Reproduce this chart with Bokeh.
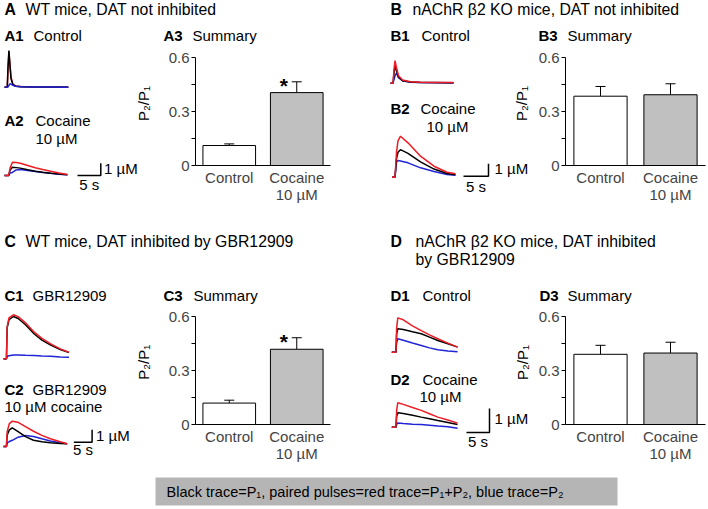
import math
from bokeh.plotting import figure
from bokeh.models import Range1d, FactorRange, Whisker, TeeHead, ColumnDataSource, FixedTicker
from bokeh.layouts import row, column
from bokeh.embed import file_html
from bokeh.resources import INLINE
from bokeh.core.properties import value

FONT = "Liberation Sans"
RED = "#ee1c25"
BLACK = "#000000"
BLUE = "#1f24d6"
GREY_BAR = "#c0c0c0"
GREY_BOX = "#b5b5b5"

# ---------------- data ----------------
bar_categories = ["Control", "Cocaine\n10 µM"]
bar_fills = ["white", GREY_BAR]
y_ticks = [0, 0.3, 0.6]
y_minor_ticks = [0.15, 0.45]

a3_mean = [0.111, 0.405]
a3_upper = [0.120, 0.465]
a3_marks = ["", "*"]
b3_mean = [0.385, 0.393]
b3_upper = [0.439, 0.454]
b3_marks = ["", ""]
c3_mean = [0.119, 0.418]
c3_upper = [0.135, 0.482]
c3_marks = ["", "*"]
d3_mean = [0.390, 0.397]
d3_upper = [0.440, 0.457]
d3_marks = ["", ""]

SCALE_TIME = 5      # s
SCALE_CONC = 1      # µM

# traces: time (s) and dopamine (µM)
a1_t = [0.0, 0.6, 0.75, 0.95, 1.15, 1.4, 1.8, 2.4, 3.5, 6.0, 9.5, 13.7]
a1_red = [0.0, 0.02, 1.5, 2.9, 1.95, 0.8, 0.25, 0.1, 0.05, 0.03, 0.02, 0.01]
a1_black = [0.0, 0.02, 1.6, 2.98, 1.9, 0.7, 0.2, 0.08, 0.04, 0.02, 0.01, 0.0]
a1_blue = [0.0, 0.0, 0.02, 0.15, 0.28, 0.25, 0.15, 0.08, 0.04, 0.02, 0.01, 0.0]

a2_t = [0.0, 0.9, 1.2, 1.7, 2.5, 3.4, 5.0, 6.6, 8.2, 9.9, 11.7, 13.5]
a2_red = [0.0, 0.0, 0.6, 1.08, 1.06, 1.0, 0.82, 0.63, 0.48, 0.35, 0.2, 0.08]
a2_black = [0.0, 0.0, 0.45, 0.67, 0.64, 0.6, 0.47, 0.35, 0.26, 0.19, 0.12, 0.06]
a2_blue = [0.0, 0.0, 0.2, 0.25, 0.45, 0.48, 0.41, 0.33, 0.25, 0.18, 0.11, 0.06]

b1_t = [0.0, 0.5, 0.7, 0.9, 1.2, 1.6, 2.4, 4.0, 6.0, 9.0, 12.6]
b1_red = [0.0, 0.0, 1.1, 1.8, 1.25, 0.6, 0.25, 0.12, 0.08, 0.06, 0.05]
b1_black = [0.0, 0.0, 0.8, 1.35, 1.0, 0.5, 0.2, 0.1, 0.06, 0.05, 0.04]
b1_blue = [0.0, 0.0, 0.3, 0.6, 0.8, 0.45, 0.2, 0.08, 0.05, 0.03, 0.02]

b2_t = [0.3, 0.9, 1.2, 1.5, 2.0, 3.5, 6.0, 8.7, 11.3, 13.0]
b2_red = [0.0, 0.0, 2.0, 2.9, 3.28, 2.75, 1.68, 0.88, 0.4, 0.27]
b2_black = [0.0, 0.0, 1.5, 2.0, 2.2, 1.9, 1.23, 0.65, 0.3, 0.2]
b2_blue = [0.0, 0.0, 1.2, 1.33, 1.3, 1.15, 0.75, 0.45, 0.22, 0.16]

c1_t = [0.0, 0.8, 1.0, 1.5, 2.7, 4.0, 6.0, 8.4, 10.5, 12.9, 15.5, 17.9]
c1_red = [0.0, 0.0, 2.6, 3.3, 3.55, 3.4, 2.9, 2.15, 1.65, 1.21, 0.8, 0.53]
c1_black = [0.0, 0.0, 2.5, 3.15, 3.41, 3.25, 2.75, 2.0, 1.5, 1.1, 0.75, 0.5]
c1_blue = [0.0, 0.0, 0.2, 0.25, 0.3, 0.3, 0.28, 0.27, 0.22, 0.2, 0.15, 0.12]

c2_t = [0.0, 0.8, 1.0, 1.6, 2.4, 4.0, 6.0, 8.2, 10.5, 12.8, 15.5, 17.4]
c2_red = [0.0, 0.0, 1.2, 1.85, 2.04, 1.95, 1.6, 1.23, 0.9, 0.62, 0.38, 0.22]
c2_black = [0.0, 0.0, 0.9, 1.35, 1.51, 1.2, 0.8, 0.5, 0.38, 0.3, 0.25, 0.22]
c2_blue = [0.0, 0.0, 0.3, 0.4, 0.5, 0.75, 0.89, 0.8, 0.62, 0.45, 0.3, 0.22]

d_t = [0.0, 0.9, 1.05, 1.3, 2.5, 4.5, 6.4, 8.2, 10.0, 12.2, 14.3]
d1_red = [0.0, 0.0, 1.0, 1.43, 1.35, 1.1, 0.9, 0.72, 0.56, 0.38, 0.21]
d1_black = [0.0, 0.0, 0.75, 0.98, 0.95, 0.85, 0.77, 0.63, 0.49, 0.35, 0.21]
d1_blue = [0.0, 0.0, 0.4, 0.56, 0.5, 0.38, 0.28, 0.18, 0.1, 0.05, 0.02]
d2_red = [0.0, 0.0, 0.7, 1.02, 0.95, 0.82, 0.7, 0.56, 0.42, 0.3, 0.17]
d2_black = [0.0, 0.0, 0.45, 0.6, 0.57, 0.5, 0.42, 0.35, 0.28, 0.2, 0.11]
d2_blue = [0.0, 0.0, 0.12, 0.17, 0.15, 0.12, 0.11, 0.08, 0.05, 0.02, -0.04]

footer_text = "Black trace=P\u2081, paired pulses=red trace=P\u2081+P\u2082, blue trace=P\u2082"
y_label = "P\u2082/P\u2081"

# ---------------- layout constants ----------------
HEAD = 15.8
ROW_H = 170
FRAME_TOP = 12
FRAME_H = 108
CAP_MID = 0.36   # distance from baseline to middle of capitals, in em


# ---------------- helpers ----------------
def no_align(p):
    try:
        p.frame_align = False
    except Exception:
        pass


def canvas(w, h):
    p = figure(width=w, height=h, x_range=Range1d(0, w), y_range=Range1d(h, 0),
               x_axis_type=None, y_axis_type=None, output_backend="svg",
               toolbar_location=None, min_border=0)
    p.outline_line_color = None
    p.background_fill_color = "white"
    p.border_fill_color = "white"
    no_align(p)
    return p


def txt(p, x, y, s, size=15, bold=False, align="left"):
    """y is the text baseline (pixels from the top of the panel)."""
    p.text(x=[x], y=[y - CAP_MID * size], text=[s], text_font=value(FONT),
           text_font_size=f"{size}px", text_font_style="bold" if bold else "normal",
           text_align=align, text_baseline="middle", text_color="black")


def ylab(p, x, y):
    p.text(x=[x], y=[y], text=[y_label], text_font=value(FONT), text_font_size="15px",
           text_align="center", text_baseline="middle", text_color="black",
           angle=math.pi / 2)


def traces(p, key, t, series, x0, base, px_s, px_uM):
    W, H = p.width, p.height
    xr = dict(p.extra_x_ranges)
    yr = dict(p.extra_y_ranges)
    xr[key] = Range1d(-x0 / px_s, (W - x0) / px_s)
    yr[key] = Range1d((base - H) / px_uM, base / px_uM)
    p.extra_x_ranges = xr
    p.extra_y_ranges = yr
    for color, v in series:
        p.line(t, v, x_range_name=key, y_range_name=key, line_color=color, line_width=1.5)


def scale_bar(p, x_end, y, px_s, px_uM, label_y, conc_label_xy):
    L = SCALE_TIME * px_s
    V = SCALE_CONC * px_uM
    p.line([x_end - L, x_end, x_end], [y, y, y - V], line_color="black", line_width=1.5)
    txt(p, x_end - L / 2, label_y, f"{SCALE_TIME} s", align="center")
    txt(p, conc_label_xy[0], conc_label_xy[1], f"{SCALE_CONC} µM")


def bar_chart(w, left, frame_w, means, uppers, marks, bar_w):
    right = w - left - frame_w
    p = figure(width=w, height=ROW_H, x_range=FactorRange(factors=bar_categories),
               y_range=Range1d(0, 0.6), output_backend="svg", toolbar_location=None,
               min_border_left=left, min_border_right=right, min_border_top=FRAME_TOP,
               min_border_bottom=ROW_H - FRAME_TOP - FRAME_H)
    no_align(p)
    p.outline_line_color = None
    p.xgrid.visible = False
    p.ygrid.visible = False
    p.vbar(x=bar_categories, top=means, bottom=0, width=bar_w, fill_color=bar_fills,
           line_color="black", line_width=1)
    src = ColumnDataSource(dict(x=bar_categories, lower=means, upper=uppers))
    p.add_layout(Whisker(source=src, base="x", lower="lower", upper="upper",
                         line_color="black", line_width=1, lower_head=None,
                         upper_head=TeeHead(size=10, line_color="black", line_width=1)))
    p.text(x=bar_categories, y=uppers, text=marks, x_offset=-13, y_offset=3.5,
           text_font=value(FONT), text_font_size="21px", text_font_style="bold",
           text_align="center", text_baseline="middle", text_color="black")
    ya = p.yaxis[0]
    ya.ticker = FixedTicker(ticks=y_ticks, minor_ticks=y_minor_ticks)
    ya.major_label_overrides = {0: "0", 0.3: "0.3", 0.6: "0.6"}
    ya.major_tick_out = 4
    ya.major_tick_in = 0
    ya.minor_tick_out = 4
    ya.minor_tick_in = 0
    ya.major_label_standoff = 2
    ya.major_label_text_font = FONT
    ya.major_label_text_font_size = "15px"
    ya.axis_line_color = "black"
    ya.major_tick_line_color = "black"
    ya.minor_tick_line_color = "black"
    xa = p.xaxis[0]
    xa.major_tick_line_color = None
    xa.minor_tick_line_color = None
    xa.major_label_standoff = -3
    xa.major_label_text_font = FONT
    xa.major_label_text_font_size = "15px"
    xa.major_label_text_line_height = 1.05
    xa.axis_line_color = "black"
    return p


# ---------------- header 1 ----------------
h1 = canvas(708, 45)
txt(h1, 4, 15, "A", HEAD, bold=True)
txt(h1, 25, 15, "WT mice, DAT not inhibited", HEAD)
txt(h1, 390, 15, "B", HEAD, bold=True)
txt(h1, 412, 15, "nAChR β2 KO mice, DAT not inhibited", HEAD)
txt(h1, 4, 40, "A1", bold=True)
txt(h1, 33, 40, "Control")
txt(h1, 163, 40, "A3", bold=True)
txt(h1, 192, 40, "Summary")
txt(h1, 390, 40, "B1", bold=True)
txt(h1, 421, 40, "Control")
txt(h1, 538, 40, "B3", bold=True)
txt(h1, 567, 40, "Summary")

# ---------------- row 1 ----------------
cA = canvas(165, ROW_H)
traces(cA, "a1", a1_t, [(RED, a1_red), (BLACK, a1_black), (BLUE, a1_blue)], 4, 41.7, 4.66, 12.3)
txt(cA, 4, 80, "A2", bold=True)
txt(cA, 35, 80, "Cocaine")
txt(cA, 35, 98, "10 µM")
traces(cA, "a2", a2_t, [(BLUE, a2_blue), (BLACK, a2_black), (RED, a2_red)], 4, 130, 4.66, 12.3)
scale_bar(cA, 100.3, 130, 4.66, 12.3, 144, (103.5, 128))
ylab(cA, 143, 58)

bA = bar_chart(189, 30, 135, a3_mean, a3_upper, a3_marks, 0.78)

cB = canvas(181, ROW_H)
traces(cB, "b1", b1_t, [(BLUE, b1_blue), (BLACK, b1_black), (RED, b1_red)], 36, 37.7, 5, 12.5)
txt(cB, 36, 68.3, "B2", bold=True)
txt(cB, 66, 68.3, "Cocaine")
txt(cB, 72, 86, "10 µM")
traces(cB, "b2", b2_t, [(BLUE, b2_blue), (BLACK, b2_black), (RED, b2_red)], 36, 131.7, 5, 12.5)
scale_bar(cB, 134, 130.7, 5, 12.5, 146, (140, 128.3))
ylab(cB, 167, 58)

bB = bar_chart(173, 30, 140, b3_mean, b3_upper, b3_marks, 0.76)

# ---------------- header 2 ----------------
h2 = canvas(708, 89)
txt(h2, 4, 31.7, "C", HEAD, bold=True)
txt(h2, 25, 31.7, "WT mice, DAT inhibited by GBR12909", HEAD)
txt(h2, 390, 31.7, "D", HEAD, bold=True)
txt(h2, 415, 31.7, "nAChR β2 KO mice, DAT inhibited", HEAD)
txt(h2, 415, 49.3, "by GBR12909", HEAD)
txt(h2, 4, 85, "C1", bold=True)
txt(h2, 32, 85, "GBR12909")
txt(h2, 163, 85, "C3", bold=True)
txt(h2, 193, 85, "Summary")
txt(h2, 390, 85, "D1", bold=True)
txt(h2, 422, 85, "Control")
txt(h2, 539, 85, "D3", bold=True)
txt(h2, 567, 85, "Summary")

# ---------------- row 2 ----------------
cC = canvas(165, ROW_H)
traces(cC, "c1", c1_t, [(BLUE, c1_blue), (BLACK, c1_black), (RED, c1_red)], 3, 54.3, 3.66, 12.4)
txt(cC, 4, 90, "C2", bold=True)
txt(cC, 32, 90, "GBR12909")
txt(cC, 4, 107.7, "10 µM cocaine")
traces(cC, "c2", c2_t, [(BLUE, c2_blue), (BLACK, c2_black), (RED, c2_red)], 3, 142, 3.66, 12.4)
scale_bar(cC, 91.6, 137.7, 3.66, 12.4, 150, (95.5, 136))
ylab(cC, 143, 57.7)

bC = bar_chart(189, 30, 135, c3_mean, c3_upper, c3_marks, 0.78)

cD = canvas(181, ROW_H)
traces(cD, "d1", d_t, [(BLUE, d1_blue), (BLACK, d1_black), (RED, d1_red)], 37.3, 47.7, 4.6, 24)
txt(cD, 36, 80, "D2", bold=True)
txt(cD, 68, 80, "Cocaine")
txt(cD, 65, 97.7, "10 µM")
traces(cD, "d2", d_t, [(BLUE, d2_blue), (BLACK, d2_black), (RED, d2_red)], 37.3, 122.7, 4.6, 24)
scale_bar(cD, 135, 128, 4.6, 24, 142, (140, 119.3))
ylab(cD, 167.5, 58)

bD = bar_chart(173, 30, 140, d3_mean, d3_upper, d3_marks, 0.76)

# ---------------- footer ----------------
foot = canvas(708, 35)
foot.quad(left=[155], right=[617], top=[3], bottom=[31], fill_color=GREY_BOX, line_color=None)
txt(foot, 166, 22.7, footer_text, 14.5)

layout = column(h1, row(cA, bA, cB, bB), h2, row(cC, bC, cD, bD), foot)

with open("out.html", "w") as f:
    f.write(file_html(layout, INLINE, "Figure"))
